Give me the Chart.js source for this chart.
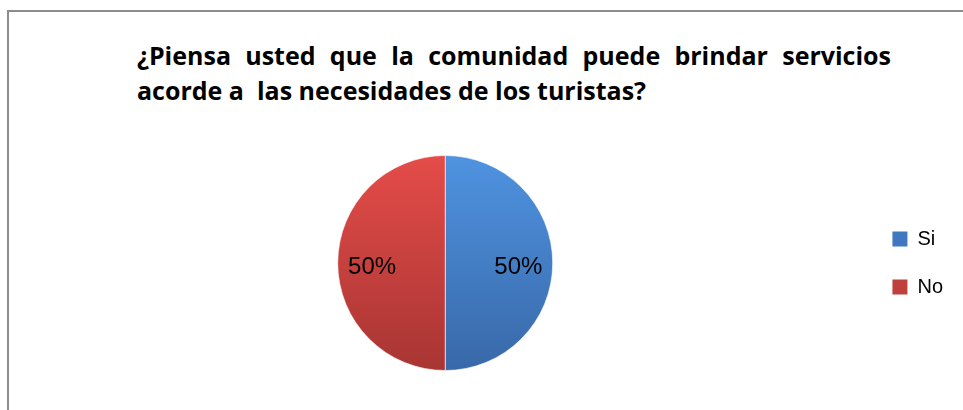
<!DOCTYPE html>
<html>
<head>
<meta charset="utf-8">
<script src="https://cdn.jsdelivr.net/npm/chart.js@4"></script>
<style>
  body { margin: 0; background: #fff; }
  #frame {
    position: absolute; left: 7px; top: 10px; width: 956px; height: 400px;
    border-left: 2px solid #8c8c8c; border-top: 2px solid #8c8c8c;
  }
  #title {
    position: absolute; left: 137px; top: 38px; width: 754px;
    font-family: "Open Sans", sans-serif;
    font-weight: bold; font-size: 25px; line-height: 35px; color: #000;
    text-align: justify; text-align-last: left; white-space: pre-wrap;
  }
  #wrap { position: absolute; left: 0; top: 150px; width: 963px; height: 226px; }
</style>
</head>
<body>
<div id="frame"></div>
<div id="title">¿Piensa usted que la comunidad puede brindar servicios acorde a  las necesidades de los turistas?</div>
<div id="wrap"><canvas id="pieChart"></canvas></div>
<script>
let labels = ["Si", "No"];
let values = [50, 50];
let topColors = ["#4f93e0", "#e44c49"];
let bottomColors = ["#3868a8", "#a83533"];
let legendColors = ["#3f78c0", "#c0403d"];

function sliceFill(context) {
  let chart = context.chart;
  let area = chart.chartArea;
  if (!area) return topColors[context.dataIndex];
  let g = chart.ctx.createLinearGradient(0, area.top, 0, area.bottom);
  g.addColorStop(0, topColors[context.dataIndex]);
  g.addColorStop(1, bottomColors[context.dataIndex]);
  return g;
}

// draw the percent text inside each slice
let sliceLabels = {
  id: "sliceLabels",
  afterDatasetsDraw(chart) {
    let ctx = chart.ctx;
    let total = values.reduce((a, b) => a + b, 0);
    chart.getDatasetMeta(0).data.forEach((arc, i) => {
      let mid = (arc.startAngle + arc.endAngle) / 2;
      let r = arc.outerRadius * 0.68;
      let x = arc.x + Math.cos(mid) * r;
      let y = arc.y + Math.sin(mid) * r + 4;
      ctx.save();
      ctx.font = "24px 'Liberation Sans', sans-serif";
      ctx.fillStyle = "#000";
      ctx.textAlign = "center";
      ctx.textBaseline = "middle";
      ctx.fillText(Math.round((values[i] / total) * 100) + "%", x, y);
      ctx.restore();
    });
  },
};

new Chart(document.getElementById("pieChart"), {
  type: "pie",
  data: {
    labels: labels,
    datasets: [
      {
        data: values,
        backgroundColor: sliceFill,
        borderColor: "rgba(255,255,255,0.6)",
        borderWidth: 1,
      },
    ],
  },
  options: {
    responsive: true,
    maintainAspectRatio: false,
    animation: false,
    layout: { padding: { top: 5, bottom: 5, left: 26, right: 10 } },
    plugins: {
      tooltip: { enabled: false },
      legend: {
        position: "right",
        labels: {
          boxWidth: 15,
          boxHeight: 15,
          padding: 28,
          color: "#000",
          font: { family: "'Liberation Sans', sans-serif", size: 20 },
          generateLabels: () =>
            labels.map((l, i) => ({
              text: l,
              fillStyle: legendColors[i],
              strokeStyle: legendColors[i],
              lineWidth: 0,
              index: i,
            })),
        },
      },
    },
  },
  plugins: [sliceLabels],
});
</script>
</body>
</html>
